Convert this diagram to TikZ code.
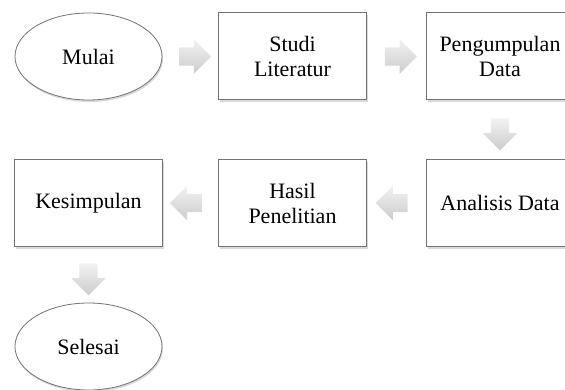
\documentclass[tikz,border=0pt]{standalone}
\usepackage{fontspec}
\setmainfont{Liberation Serif}
\usetikzlibrary{shadows}
\usetikzlibrary{positioning}
\usetikzlibrary{shapes.geometric,shapes.arrows}
\usetikzlibrary{calc}
\tikzstyle{stepbox}=[rectangle,draw=black!55,line width=1pt,fill=white,minimum width=148pt,minimum height=87pt,inner sep=0pt,align=center,drop shadow={shadow xshift=1.5pt,shadow yshift=-2.5pt,opacity=0.3}]
\tikzstyle{terminal}=[ellipse,draw=black!55,line width=0.8pt,fill=white,minimum width=147pt,minimum height=87pt,inner sep=0pt,align=center,drop shadow={shadow xshift=1pt,shadow yshift=-2pt,opacity=0.3}]
\tikzstyle{flowarrow}=[single arrow,draw=none,top color=black!5,bottom color=black!20,minimum height=32pt,minimum width=34pt,single arrow head extend=8pt,inner sep=9pt]
\tikzstyle{steptext}=[font=\fontsize{22}{25}\selectfont]

\begin{document}
\begin{tikzpicture}[x=1pt,y=-1pt]

    \useasboundingbox (0,0) rectangle (565,390);

    % First we draw the start and end
    \foreach \pos/\name/\label in {{(88.5,56.5)/mulai/Mulai}, {(88.5,346.5)/selesai/Selesai}}
        \node[terminal,steptext] (\name) at \pos {\label};

    % Then the steps
    \foreach \pos/\name/\label in {{(292.5,56.5)/studi/Studi\\Literatur}, {(500,56.5)/data/Pengumpulan\\Data}, {(500,203)/analisis/Analisis Data}, {(292.5,203)/hasil/Hasil\\Penelitian}, {(88.5,203)/kesimpulan/Kesimpulan}}
        \node[stepbox,steptext] (\name) at \pos {\label};

    % Block arrows between the steps
    \foreach \source/\dest/\dir in {mulai/studi/0, studi/data/0, data/analisis/270, analisis/hasil/180, hasil/kesimpulan/180, kesimpulan/selesai/270}
        \node[flowarrow,shape border rotate=\dir] (\source-\dest) at ($(\source)!0.5!(\dest)$) {};

\end{tikzpicture}
\end{document}
